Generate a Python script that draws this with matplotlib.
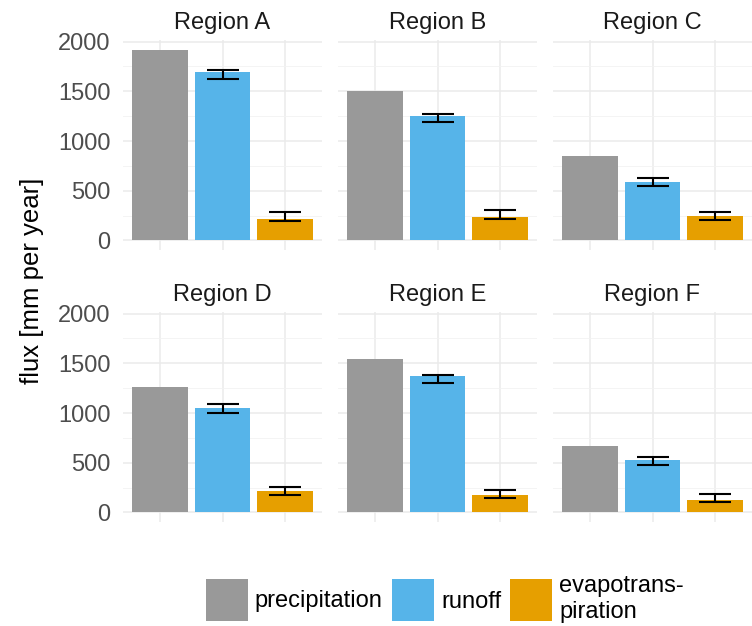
import numpy as np
import matplotlib.pyplot as plt
from matplotlib.patches import Patch

# Data
regions = ["Region A", "Region B", "Region C", "Region D", "Region E", "Region F"]
fluxes = ["precipitation", "runoff", "evapotrans-\npiration"]
precipitation = [1920, 1505, 848, 1258, 1539, 669]
runoff = [1690, 1255, 590, 1050, 1370, 530]
runoff_lo = [1624, 1189, 545, 1003, 1304, 478]
runoff_hi = [1717, 1273, 629, 1087, 1381, 562]
evapo = [215, 232, 242, 211, 171, 127]
evapo_lo = [195, 212, 202, 178, 144, 110]
evapo_hi = [286, 303, 286, 251, 228, 188]

colors = ["#999999", "#56B4E9", "#E69F00"]

plt.rcParams['font.family'] = ['Liberation Sans', 'DejaVu Sans']

W, H = 752, 626
fig = plt.figure(figsize=(W / 100, H / 100), dpi=100)

col_x = [123, 338, 553]
panel_w = 199
row_top = [40, 312]
panel_h = 210
ymax = max(max(precipitation), max(runoff_hi), max(evapo_hi))
ylim = (-0.05 * ymax, 1.05 * ymax)

for i, reg in enumerate(regions):
    r, c = divmod(i, 3)
    left = col_x[c] / W
    bottom = 1 - (row_top[r] + panel_h) / H
    ax = fig.add_axes([left, bottom, panel_w / W, panel_h / H])
    x = np.arange(1, 4)
    vals = [precipitation[i], runoff[i], evapo[i]]
    ax.bar(x, vals, width=0.9, color=colors, zorder=2)
    for xi, lo, hi in [(2, runoff_lo[i], runoff_hi[i]), (3, evapo_lo[i], evapo_hi[i])]:
        ax.errorbar([xi], [(lo + hi) / 2], yerr=[[(hi - lo) / 2]], fmt='none',
                    ecolor='black', elinewidth=1.5, capsize=11.5, capthick=1.5, zorder=3)
    ax.set_xlim(0.4, 3.6)
    ax.set_ylim(*ylim)
    ax.set_xticks(x)
    ax.set_xticklabels([])
    ax.set_yticks([0, 500, 1000, 1500, 2000])
    ax.set_yticks([250, 750, 1250, 1750], minor=True)
    ax.grid(True, which='major', color='#EBEBEB', lw=1.1, zorder=0)
    ax.grid(True, which='minor', axis='y', color='#F2F2F2', lw=0.6, zorder=0)
    ax.set_axisbelow(True)
    ax.tick_params(which='both', length=0)
    ax.tick_params(axis='y', labelsize=17, labelcolor='#4D4D4D', pad=9)
    if c != 0:
        ax.set_yticklabels([])
    for s in ax.spines.values():
        s.set_visible(False)
    ax.set_title(reg, fontsize=17, color='#1A1A1A', pad=8)

fig.text(32 / W, 1 - 281 / H, "flux [mm per year]", rotation=90, fontsize=18.5,
         ha='center', va='center', color='black')

handles = [Patch(facecolor=col, edgecolor='none') for col in colors]
fig.legend(handles, fluxes, loc='center', bbox_to_anchor=(445 / W, 1 - 599 / H),
           ncol=3, frameon=False, fontsize=17, handlelength=1.76, handleheight=2.36,
           handletextpad=0.3, columnspacing=0.4, borderpad=0)

fig.savefig("out.png", dpi=100)
